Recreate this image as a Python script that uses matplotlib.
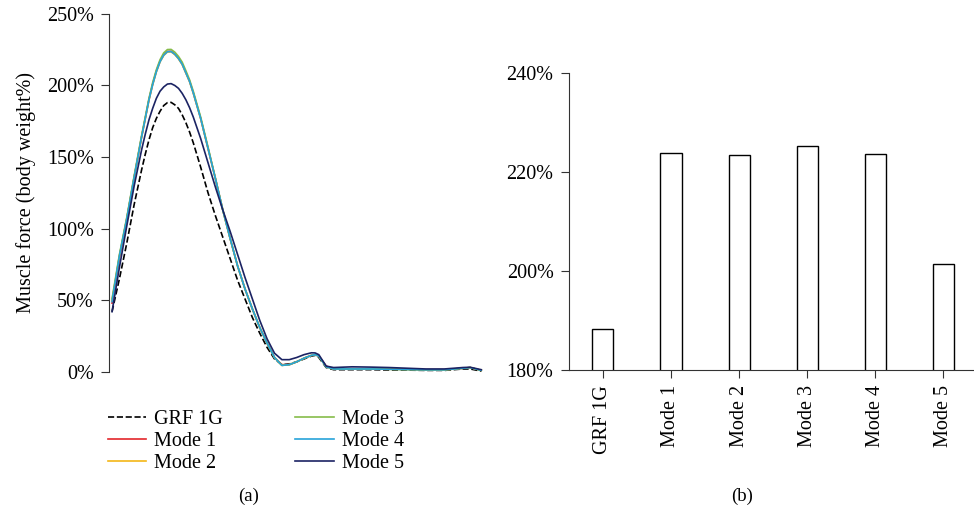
import matplotlib.pyplot as plt
from matplotlib.ticker import FuncFormatter

plt.rcParams['font.family'] = ['Liberation Serif', 'DejaVu Serif']

# gait cycle position (%)
x = [0, 2, 4, 6, 8, 9, 10, 11, 12, 13, 14, 15, 16, 17, 18, 19, 20, 21, 22, 24, 26, 28, 30, 32, 34, 36, 38,
     40, 42, 44, 46, 48, 50, 52, 54, 55, 56, 58, 60, 65, 70, 75, 80, 85, 90, 95, 97, 100]

grf = [42, 65, 90, 117, 141, 152, 162, 170.5, 177, 182, 186, 188, 188.2, 186.5, 184, 179.5, 174, 167.5, 160,
       143, 125, 109, 94, 79, 64, 51, 38,
       27, 17, 9, 5, 5.5, 7, 9, 11, 11.5, 10, 3, 1.5, 1.5, 1.5, 1.3, 1.2, 1, 1, 2, 2, 0.5]
mode1 = [48, 80, 107, 136, 164, 177, 190, 201, 210, 217, 221.5, 223.8, 223.9, 222, 219, 215, 209, 203, 195,
         177, 156, 135, 113, 93, 74, 58, 44,
         31, 20, 10, 5, 5, 7, 9.5, 11.5, 12, 11, 4, 2, 2.2, 2, 2, 1.8, 1.5, 1.5, 2.5, 3, 1]
mode2 = [50, 81, 107, 136, 164, 177, 190, 200.5, 209.5, 216.5, 221, 223.4, 223.5, 221.6, 218.6, 214.6, 208.6, 202.6, 194.6,
         177, 156, 135, 113, 93, 74, 58, 44,
         31, 20, 10, 4.5, 5, 7, 9.5, 11.5, 12, 11, 3.5, 2, 2, 2, 1.8, 1.6, 1.4, 1.4, 2.5, 3, 1]
mode3 = [51, 82, 108, 137, 165, 178, 191, 202, 211, 218, 222.8, 225.1, 225.2, 223.3, 220.3, 216.3, 210.3, 204, 196,
         178, 157, 135, 113, 93, 74, 58, 44,
         31, 20, 10, 4.5, 5, 7, 9.5, 11.5, 12, 11, 3.5, 2, 2, 2, 1.8, 1.6, 1.4, 1.4, 2.5, 3, 1]
mode4 = [49, 81, 107, 136, 164, 177, 190, 200.6, 209.6, 216.6, 221.2, 223.6, 223.7, 221.8, 218.8, 214.8, 208.8, 202.8, 194.8,
         177, 156, 135, 113, 93, 74, 58, 44,
         31, 20, 10, 4.5, 5, 7, 9.5, 11.5, 12, 11, 3.5, 2, 2, 2, 1.8, 1.6, 1.4, 1.4, 2.5, 3, 1]
mode5 = [42, 73, 102, 130, 155, 166, 176, 184, 191, 196, 199, 201, 201.3, 200, 198, 194.5, 190, 184.5, 178,
         163, 146, 129, 113, 98, 82, 66, 51,
         36, 23, 13, 8.5, 8.5, 10, 12, 13.3, 13.2, 12, 4, 3, 3.5, 3.3, 3, 2.5, 2, 2, 3, 3.2, 1.5]

series = [("GRF 1G", grf), ("Mode 1", mode1), ("Mode 2", mode2),
          ("Mode 3", mode3), ("Mode 4", mode4), ("Mode 5", mode5)]
colors = ["black", "#e3262b", "#f4b616", "#86bc4a", "#27a3d9", "#1b2363"]

bar_labels = ["GRF 1G", "Mode 1", "Mode 2", "Mode 3", "Mode 4", "Mode 5"]
bar_values = [188.2, 223.9, 223.5, 225.2, 223.7, 201.3]

pct = FuncFormatter(lambda v, p: f"{v:.0f}%")
fs = 14.5

fig = plt.figure(figsize=(9.74, 5.15), dpi=100)

# (a) time series
ax1 = fig.add_axes([0.112, 0.278, 0.384, 0.695])
handles = []
for (name, vals), c in zip(series, colors):
    ls = "--" if name == "GRF 1G" else "-"
    h, = ax1.plot(x, vals, color=c, lw=1.2, ls=ls, label=name, clip_on=False)
    handles.append(h)
ax1.set_xlim(-0.8, 100.5)
ax1.set_ylim(0, 250)
ax1.set_yticks([0, 50, 100, 150, 200, 250])
ax1.yaxis.set_major_formatter(pct)
ax1.set_xticks([])
for s in ["top", "right", "bottom"]:
    ax1.spines[s].set_visible(False)
ax1.spines["left"].set_color("#333333")
ax1.tick_params(axis="y", direction="out", length=6, pad=5, color="#333333", labelsize=fs)
ax1.set_ylabel("Muscle force (body weight%)", fontsize=fs, labelpad=8)

ax1.legend(handles, [n for n, _ in series], ncol=2,
           loc="upper left", bbox_to_anchor=(-0.025, -0.085), frameon=False,
           fontsize=fs, handlelength=1.9, handletextpad=0.4, columnspacing=3.6,
           labelspacing=0.13, borderaxespad=0)
fig.text(0.255, 0.036, "(a)", ha="center", va="center", fontsize=fs - 1)

# (b) peak values
ax2 = fig.add_axes([0.584, 0.282, 0.416, 0.576])
ax2.bar(range(len(bar_values)), bar_values, width=0.31, color="white",
        edgecolor="black", linewidth=1.0)
ax2.set_ylim(180, 240)
ax2.set_xlim(-0.5, 5.45)
ax2.set_yticks([180, 200, 220, 240])
ax2.yaxis.set_major_formatter(pct)
ax2.set_xticks(range(len(bar_labels)))
ax2.set_xticklabels(bar_labels, rotation=90)
for s in ["top", "right"]:
    ax2.spines[s].set_visible(False)
ax2.spines["left"].set_color("#333333")
ax2.spines["bottom"].set_color("#333333")
ax2.tick_params(direction="out", length=6, pad=5, color="#333333", labelsize=fs)
fig.text(0.762, 0.036, "(b)", ha="center", va="center", fontsize=fs - 1)

fig.savefig("out.png", dpi=100)
